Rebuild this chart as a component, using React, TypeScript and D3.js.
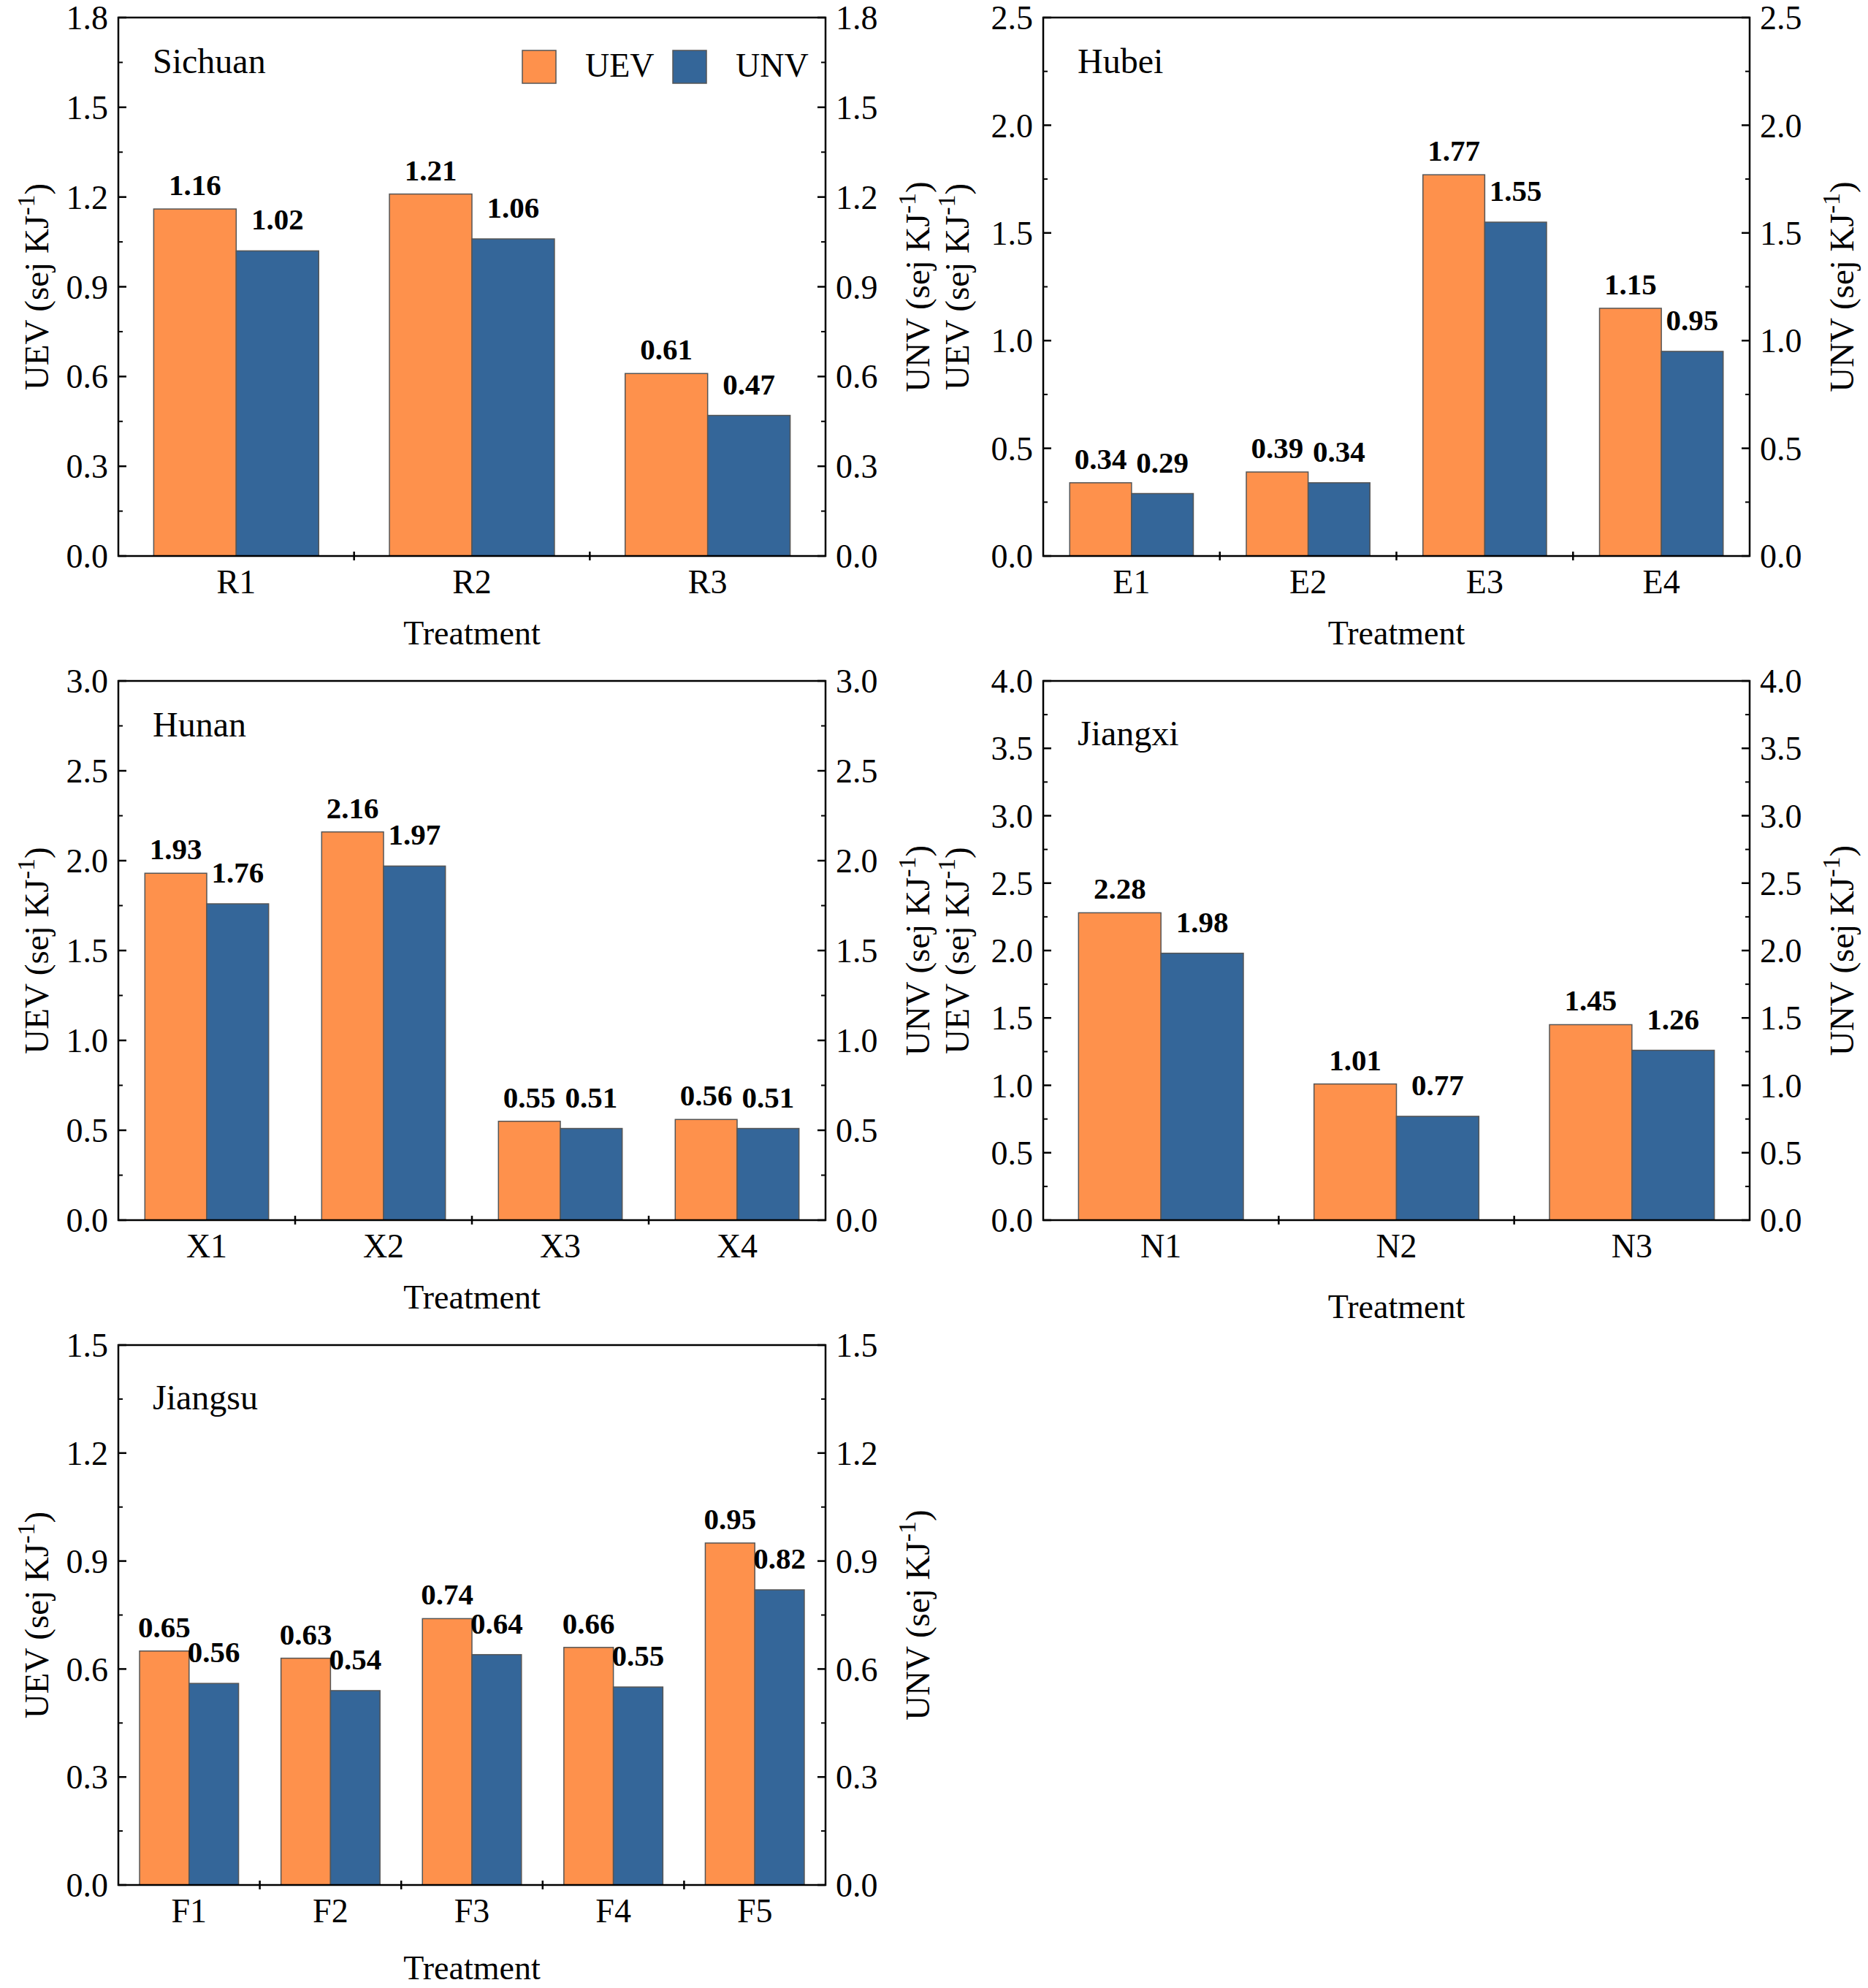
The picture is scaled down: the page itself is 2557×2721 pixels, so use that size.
import React from 'react';
import * as d3 from 'd3';

// series
const seriesNames = ['UEV', 'UNV'];
const seriesColors = ['#FE914C', '#346699'];

// Sichuan
const sichuanCats = ['R1', 'R2', 'R3'];
const sichuanUEV = [1.16, 1.21, 0.61];
const sichuanUNV = [1.02, 1.06, 0.47];

// Hubei
const hubeiCats = ['E1', 'E2', 'E3', 'E4'];
const hubeiUEV = [0.34, 0.39, 1.77, 1.15];
const hubeiUNV = [0.29, 0.34, 1.55, 0.95];

// Hunan
const hunanCats = ['X1', 'X2', 'X3', 'X4'];
const hunanUEV = [1.93, 2.16, 0.55, 0.56];
const hunanUNV = [1.76, 1.97, 0.51, 0.51];

// Jiangxi
const jiangxiCats = ['N1', 'N2', 'N3'];
const jiangxiUEV = [2.28, 1.01, 1.45];
const jiangxiUNV = [1.98, 0.77, 1.26];

// Jiangsu
const jiangsuCats = ['F1', 'F2', 'F3', 'F4', 'F5'];
const jiangsuUEV = [0.65, 0.63, 0.74, 0.66, 0.95];
const jiangsuUNV = [0.56, 0.54, 0.64, 0.55, 0.82];

// y axis ranges (max, major step)
const sichuanAxis = [1.8, 0.3];
const hubeiAxis = [2.5, 0.5];
const hunanAxis = [3.0, 0.5];
const jiangxiAxis = [4.0, 0.5];
const jiangsuAxis = [1.5, 0.3];

const xTitle = 'Treatment';

// layout
const W = 2557;
const H = 2721;
const FONT = '"Liberation Serif", "Times New Roman", serif';
const colX = [[162, 1130], [1428, 2395]];
const rowY = [[24, 761], [932, 1670], [1841, 2580]];
const labelGap = [19, 29]; // value label offset above bar, per series

const panels = [
  { name: 'Sichuan', cats: sichuanCats, vals: [sichuanUEV, sichuanUNV], axis: sichuanAxis, col: 0, row: 0, legend: true, titleDy: 76, treatDy: 121, leftGap: 96 },
  { name: 'Hubei', cats: hubeiCats, vals: [hubeiUEV, hubeiUNV], axis: hubeiAxis, col: 1, row: 0, legend: false, titleDy: 76, treatDy: 121, leftGap: 102 },
  { name: 'Hunan', cats: hunanCats, vals: [hunanUEV, hunanUNV], axis: hunanAxis, col: 0, row: 1, legend: false, titleDy: 76, treatDy: 121, leftGap: 96 },
  { name: 'Jiangxi', cats: jiangxiCats, vals: [jiangxiUEV, jiangxiUNV], axis: jiangxiAxis, col: 1, row: 1, legend: false, titleDy: 88, treatDy: 134, leftGap: 102 },
  { name: 'Jiangsu', cats: jiangsuCats, vals: [jiangsuUEV, jiangsuUNV], axis: jiangsuAxis, col: 0, row: 2, legend: false, titleDy: 88, treatDy: 129, leftGap: 96 },
];

function AxisTitle({ x, y, name }: { x: number; y: number; name: string }) {
  return (
    <text transform={`translate(${x},${y}) rotate(-90)`} textAnchor="middle" fontSize={47} fontFamily={FONT}>
      {name} (sej KJ
      <tspan fontSize={34} dy={-19}>-1</tspan>
      <tspan dy={19}>)</tspan>
    </text>
  );
}

function Panel({ p }: { p: any }) {
  const [x0, x1] = colX[p.col];
  const [y0, y1] = rowY[p.row];
  const [yMax, yStep] = p.axis;

  const x = d3.scaleBand<string>().domain(p.cats).range([x0, x1]);
  const xs = d3.scaleBand<string>().domain(seriesNames).range([0, x.bandwidth()]).paddingInner(0).paddingOuter(3 / 7);
  const y = d3.scaleLinear().domain([0, yMax]).range([y1, y0]);

  const n = Math.round(yMax / yStep);
  const majors = d3.range(0, n + 1).map((i) => i * yStep);
  const minors = d3.range(0, n).map((i) => i * yStep + yStep / 2);
  const fmtTick = d3.format('.1f');
  const fmtVal = d3.format('.2f');
  const boundaries = p.cats.slice(1).map((c: string) => x(c) as number);
  const cy = (y0 + y1) / 2;

  return (
    <g>
      {/* bars */}
      {p.cats.map((c: string, i: number) =>
        seriesNames.map((s, k) => {
          const v = p.vals[k][i];
          const bx = (x(c) as number) + (xs(s) as number);
          return (
            <rect key={c + s} x={bx} y={y(v)} width={xs.bandwidth()} height={y(0) - y(v)}
              fill={seriesColors[k]} stroke="#555" strokeWidth={1.5} />
          );
        })
      )}
      {/* value labels */}
      {p.cats.map((c: string, i: number) =>
        seriesNames.map((s, k) => {
          const v = p.vals[k][i];
          const bx = (x(c) as number) + (xs(s) as number) + xs.bandwidth() / 2;
          return (
            <text key={'l' + c + s} x={bx} y={y(v) - labelGap[k]} textAnchor="middle" fontSize={41} fontWeight="bold" fontFamily={FONT}>
              {fmtVal(v)}
            </text>
          );
        })
      )}
      {/* frame */}
      <rect x={x0} y={y0} width={x1 - x0} height={y1 - y0} fill="none" stroke="#000" strokeWidth={2.5} />
      {/* y ticks */}
      {majors.map((t) => (
        <g key={'m' + t}>
          <line x1={x0} x2={x0 + 11} y1={y(t)} y2={y(t)} stroke="#000" strokeWidth={2.5} />
          <line x1={x1} x2={x1 - 11} y1={y(t)} y2={y(t)} stroke="#000" strokeWidth={2.5} />
          <text x={x0 - 14} y={y(t)} dy="0.35em" textAnchor="end" fontSize={46} fontFamily={FONT}>{fmtTick(t)}</text>
          <text x={x1 + 14} y={y(t)} dy="0.35em" textAnchor="start" fontSize={46} fontFamily={FONT}>{fmtTick(t)}</text>
        </g>
      ))}
      {minors.map((t) => (
        <g key={'n' + t}>
          <line x1={x0} x2={x0 + 6} y1={y(t)} y2={y(t)} stroke="#000" strokeWidth={2} />
          <line x1={x1} x2={x1 - 6} y1={y(t)} y2={y(t)} stroke="#000" strokeWidth={2} />
        </g>
      ))}
      {/* x ticks */}
      {boundaries.map((b: number) => (
        <line key={'b' + b} x1={b} x2={b} y1={y1 - 6} y2={y1 + 6} stroke="#000" strokeWidth={2.5} />
      ))}
      {p.cats.map((c: string) => (
        <text key={'x' + c} x={(x(c) as number) + x.bandwidth() / 2} y={y1 + 51} textAnchor="middle" fontSize={46} fontFamily={FONT}>{c}</text>
      ))}
      <text x={(x0 + x1) / 2} y={y1 + p.treatDy} textAnchor="middle" fontSize={46} fontFamily={FONT}>{xTitle}</text>
      {/* axis titles */}
      <AxisTitle x={x0 - p.leftGap} y={cy} name={seriesNames[0]} />
      <AxisTitle x={x1 + 142} y={cy} name={seriesNames[1]} />
      {/* panel title */}
      <text x={x0 + 47} y={y0 + p.titleDy} fontSize={48} fontFamily={FONT}>{p.name}</text>
      {/* legend */}
      {p.legend && (
        <g>
          {seriesNames.map((s, k) => (
            <g key={'lg' + s} transform={`translate(${715 + k * 206},69)`}>
              <rect x={0} y={0} width={46} height={45} fill={seriesColors[k]} stroke="#555" strokeWidth={1.5} />
              <text x={86} y={36} fontSize={46} fontFamily={FONT}>{s}</text>
            </g>
          ))}
        </g>
      )}
    </g>
  );
}

export default function App() {
  return (
    <svg width={W} height={H} viewBox={`0 0 ${W} ${H}`} style={{ position: 'absolute', left: 0, top: 0, background: '#fff' }}>
      <rect x={0} y={0} width={W} height={H} fill="#fff" />
      {panels.map((p) => (
        <Panel key={p.name} p={p} />
      ))}
    </svg>
  );
}
